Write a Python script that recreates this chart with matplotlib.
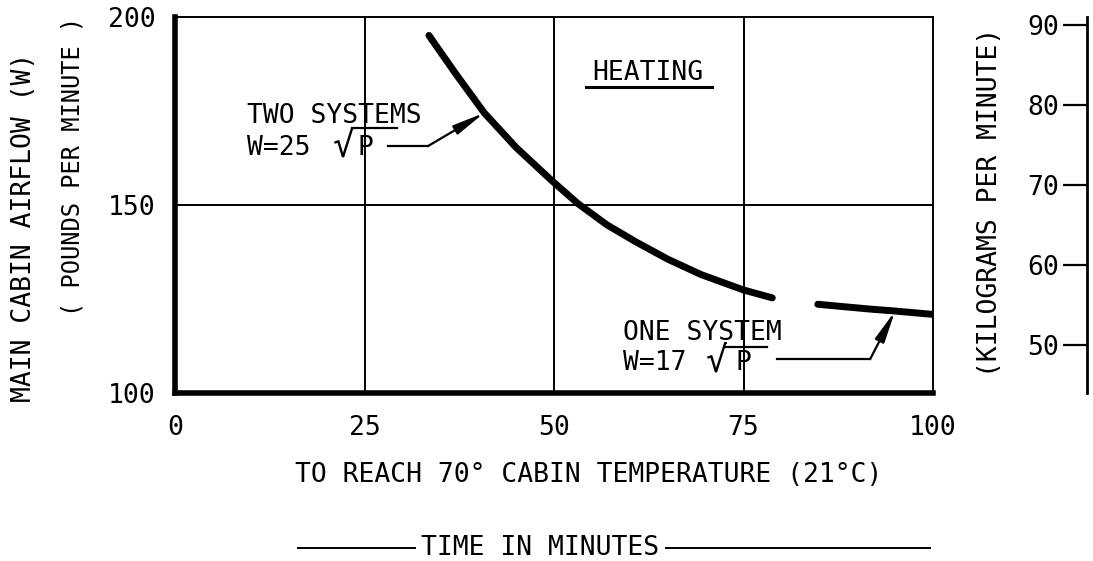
import matplotlib
matplotlib.use("Agg")
import matplotlib.pyplot as plt
from matplotlib.lines import Line2D

# Airflow needed vs. time to reach 70 F cabin temperature (heating)
two_sys_time = [33.5, 37.0, 40.8, 45.0, 49.7, 53.2, 57.0, 60.8, 65.0, 69.4, 75.0, 78.8]
two_sys_flow = [195.1, 185.0, 174.5, 165.3, 156.5, 150.3, 144.7, 140.2, 135.6, 131.5, 127.4, 125.3]
one_sys_time = [84.8, 88.0, 91.8, 95.0, 100.0]
one_sys_flow = [123.6, 123.0, 122.3, 121.8, 120.9]

x_ticks = [0, 25, 50, 75, 100]
y_ticks = [100, 150, 200]
kg_ticks = [50, 60, 70, 80, 90]

FONT = "DejaVu Sans Mono"
FS = 19
plt.rcParams["font.family"] = FONT

W, H = 1093, 561
fig = plt.figure(figsize=(W / 100, H / 100), dpi=100)


def fx(px):
    return px / W


def fy(py):
    return 1 - py / H


L, R, T, B = 175, 933, 17, 393
ax = fig.add_axes([fx(L), fy(B), (R - L) / W, (B - T) / H])
ax.set_xlim(0, 100)
ax.set_ylim(100, 200)
ax.set_xticks(x_ticks)
ax.set_yticks(y_ticks)
ax.tick_params(length=0, labelsize=FS, pad=14)
ax.tick_params(axis="x", pad=16)

for s in ["left", "bottom"]:
    ax.spines[s].set_linewidth(4.0)
for s in ["top", "right"]:
    ax.spines[s].set_linewidth(1.4)

for xv in x_ticks[1:-1]:
    ax.axvline(xv, color="black", lw=1.4, zorder=1)
ax.axhline(y_ticks[1], color="black", lw=1.4, zorder=1)

curve_kw = dict(color="black", lw=5, solid_capstyle="round", solid_joinstyle="round", zorder=3)
ax.plot(two_sys_time, two_sys_flow, **curve_kw)
ax.plot(one_sys_time, one_sys_flow, **curve_kw)

arrow_kw = dict(arrowstyle="-|>,head_length=1.9,head_width=0.3",
                color="black", lw=1.6, shrinkA=0, shrinkB=0, mutation_scale=10)
line_kw = dict(color="black", lw=1.6)


def formula(x0, base, coef, x_root, x_p, bar_end, bar_y):
    """Write 'W=coef sqrt(P)' with a large radical sign and its overbar."""
    ax.text(x0, base, f"W={coef}", fontsize=FS, ha="left", va="baseline")
    root = ax.text(x_root, base - 0.5, "\u221a", fontsize=26, ha="left", va="baseline")
    ax.text(x_p, base, "P", fontsize=FS, ha="left", va="baseline")
    fig.canvas.draw()
    bb = root.get_window_extent().transformed(ax.transData.inverted())
    ax.plot([bb.x1 - 0.35, bar_end], [bar_y, bar_y], **line_kw)


# Two systems annotation
ax.text(9.5, 171.8, "TWO SYSTEMS", fontsize=FS, ha="left", va="baseline")
formula(9.5, 163.3, 25, 20.8, 24.1, 29.3, 170.5)
ax.plot([28.1, 33.4], [165.7, 165.7], **line_kw)
ax.annotate("", xy=(two_sys_time[2], two_sys_flow[2]), xytext=(33.4, 165.7),
            arrowprops=arrow_kw)

# One system annotation
ax.text(59.1, 114.1, "ONE SYSTEM", fontsize=FS, ha="left", va="baseline")
formula(59.1, 106.1, 17, 70.1, 73.9, 78.1, 112.2)
ax.plot([79.4, 91.7], [109.0, 109.0], **line_kw)
ax.annotate("", xy=(one_sys_time[3], one_sys_flow[3]), xytext=(91.7, 109.0),
            arrowprops=arrow_kw)

# Heating label with underline
ax.text(55.1, 183.2, "HEATING", fontsize=FS, ha="left", va="baseline")
ax.plot([54.2, 70.8], [181.4, 181.4], color="black", lw=2.2)

# Secondary scale in kilograms per minute
ax2 = fig.add_axes([fx(1087), fy(B), 0.0001, (B - T) / H])
ax2.set_ylim(44, 91)
ax2.set_yticks(kg_ticks)
ax2.set_xticks([])
for s in ["top", "right", "bottom"]:
    ax2.spines[s].set_visible(False)
ax2.spines["left"].set_linewidth(2.0)
ax2.tick_params(axis="y", direction="out", length=17, width=1.6, labelsize=FS, pad=3)
ax2.patch.set_visible(False)

# Axis titles
fig.text(fx(24), fy(227), "MAIN CABIN AIRFLOW (W)", rotation=90, fontsize=FS,
         ha="center", va="center")
fig.text(fx(73), fy(166), "( POUNDS PER MINUTE )", rotation=90, fontsize=17,
         ha="center", va="center")
fig.text(fx(990), fy(202), "(KILOGRAMS PER MINUTE)", rotation=90, fontsize=FS,
         ha="center", va="center")

fig.text(fx(589), fy(475), "TO REACH 70° CABIN TEMPERATURE (21°C)", fontsize=FS,
         ha="center", va="center")
fig.text(fx(540), fy(548), "TIME IN MINUTES", fontsize=FS, ha="center", va="center")
fig.add_artist(Line2D([fx(298), fx(415)], [fy(548), fy(548)], color="black", lw=1.4))
fig.add_artist(Line2D([fx(666), fx(930)], [fy(548), fy(548)], color="black", lw=1.4))

fig.savefig("out.png", dpi=100)
